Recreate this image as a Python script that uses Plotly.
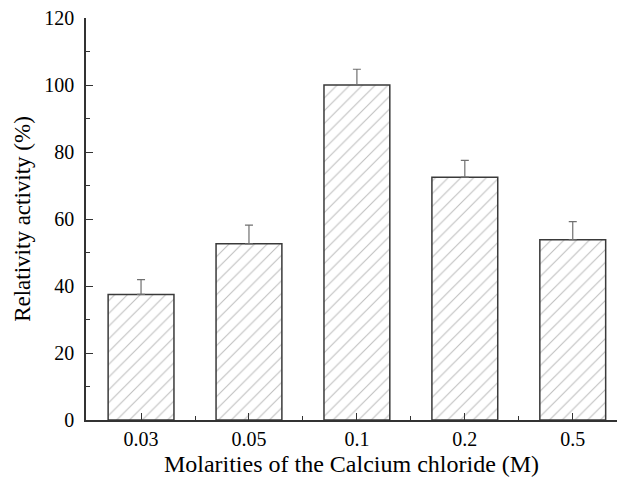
import plotly.graph_objects as go

categories = ["0.03", "0.05", "0.1", "0.2", "0.5"]
activity = [37.5, 52.6, 100.0, 72.5, 53.8]
errors = [4.4, 5.6, 4.7, 5.0, 5.4]
y_ticks = [0, 20, 40, 60, 80, 100, 120]

fig = go.Figure()
fig.add_trace(go.Bar(
    x=list(range(len(categories))),
    y=activity,
    width=0.61,
    marker=dict(
        color="white",
        line=dict(color="#3a3a3a", width=1.5),
        pattern=dict(shape="/", size=9, solidity=0.12, fgcolor="#808080", bgcolor="white"),
    ),
    error_y=dict(type="data", array=errors, arrayminus=[0]*len(errors), symmetric=False,
                 color="#707070", thickness=1.2, width=4),
    showlegend=False,
))

font = "Liberation Serif, Times New Roman, serif"
fig.update_layout(
    width=617, height=479,
    margin=dict(l=86, r=0, t=18, b=59),
    paper_bgcolor="white", plot_bgcolor="white",
    font=dict(family=font, size=20, color="black"),
)
fig.update_xaxes(
    range=[-0.51, 4.41], automargin=False,
    tickmode="array", tickvals=list(range(len(categories))), ticktext=categories,
    ticks="inside", ticklen=7, tickwidth=1.2, tickcolor="#333333",
    minor=dict(tickmode="array", tickvals=[0.5, 1.5, 2.5, 3.5], ticks="inside", ticklen=4, tickwidth=1.2, tickcolor="#333333"),
    showline=True, linecolor="#333333", linewidth=1.5,
    showgrid=False, zeroline=False,
    tickfont=dict(size=20, family=font),
    title=dict(text="Molarities of the Calcium chloride (M)", font=dict(size=24, family=font), standoff=6),
)
fig.update_yaxes(
    range=[0, 120], automargin=False,
    tickmode="array", tickvals=y_ticks,
    ticks="inside", ticklen=7, tickwidth=1.2, tickcolor="#333333",
    minor=dict(tickmode="array", tickvals=[10, 30, 50, 70, 90, 110], ticks="inside", ticklen=4, tickwidth=1.2, tickcolor="#333333"),
    showline=True, linecolor="#333333", linewidth=1.5,
    showgrid=False, zeroline=False,
    tickfont=dict(size=20, family=font),
    ticklabelstandoff=6,
    title=dict(text="Relativity activity (%)", font=dict(size=23, family=font), standoff=7),
)
fig.write_html("out.html", config={"displayModeBar": False},
               post_script="document.body.style.margin='0';")
